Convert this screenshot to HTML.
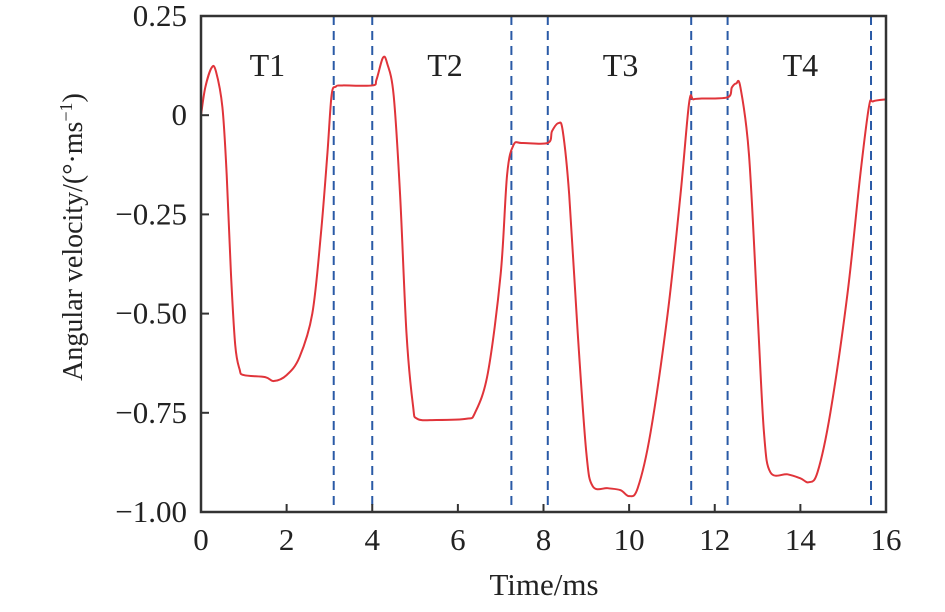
<!DOCTYPE html>
<html><head><meta charset="utf-8"><style>
html,body{margin:0;padding:0;background:#fff;}
svg text{font-family:"Liberation Serif",serif;fill:#222;}
</style></head><body>
<svg id="chart" width="945" height="607" viewBox="0 0 945 607" xmlns="http://www.w3.org/2000/svg">
<g id="grid"></g>
</svg>
<script>
const xTicks=[0,2,4,6,8,10,12,14,16];
const yTicks=[0.25,0,-0.25,-0.5,-0.75,-1.0];
const yTickLabels=["0.25","0","\u22120.25","\u22120.50","\u22120.75","\u22121.00"];
const dividers=[3.1,4.0,7.25,8.1,11.45,12.3,15.65];
const phaseLabels=["T1","T2","T3","T4"];
const phasePos=[1.55,5.7,9.8,14.0];
const times=[0,0.1,0.25,0.35,0.5,0.6,0.7,0.8,0.9,1.0,1.5,1.7,2.0,2.3,2.6,2.8,2.95,3.05,3.15,3.3,4.0,4.1,4.25,4.35,4.5,4.65,4.8,4.95,5.05,5.5,6.2,6.4,6.7,7.0,7.15,7.3,7.5,8.1,8.2,8.35,8.45,8.6,8.8,9.0,9.15,9.5,9.8,10.0,10.2,10.5,10.9,11.2,11.4,11.5,11.7,12.3,12.4,12.5,12.6,12.8,13.0,13.15,13.3,13.7,14.0,14.2,14.4,14.7,15.1,15.4,15.6,15.7,16];
const velocity=[0,0.07,0.12,0.11,0.02,-0.15,-0.4,-0.58,-0.64,-0.655,-0.66,-0.67,-0.655,-0.61,-0.5,-0.3,-0.1,0.05,0.072,0.075,0.075,0.09,0.145,0.13,0.05,-0.2,-0.55,-0.73,-0.765,-0.768,-0.765,-0.75,-0.65,-0.4,-0.15,-0.075,-0.07,-0.07,-0.04,-0.02,-0.04,-0.2,-0.55,-0.85,-0.935,-0.94,-0.945,-0.96,-0.94,-0.8,-0.5,-0.2,0.03,0.04,0.042,0.045,0.07,0.08,0.07,-0.1,-0.5,-0.8,-0.9,-0.905,-0.915,-0.925,-0.9,-0.75,-0.45,-0.15,0.02,0.035,0.04];

const L=201,R=886,T=16,B=512;
const X=v=>L+(v-0)/(16-0)*(R-L);
const Y=v=>T+(0.25-v)/(1.25)*(B-T);
const svg=document.getElementById('chart');
const NS='http://www.w3.org/2000/svg';
function mk(tag,attrs,parent){const e=document.createElementNS(NS,tag);for(const k in attrs)e.setAttribute(k,attrs[k]);(parent||svg).appendChild(e);return e;}

dividers.forEach(d=>{
  const l=mk('line',{x1:X(d),x2:X(d),y1:T,y2:B,stroke:'#2a5aa6','stroke-width':2,'stroke-dasharray':'9,6'});
  
  
});
const pts=times.map((t,i)=>[X(t),Y(velocity[i])]);
let d='M'+pts[0][0]+','+pts[0][1];
for(let i=0;i<pts.length-1;i++){
  const p0=pts[Math.max(0,i-1)],p1=pts[i],p2=pts[i+1],p3=pts[Math.min(pts.length-1,i+2)];
  const c1=[p1[0]+(p2[0]-p0[0])/6,p1[1]+(p2[1]-p0[1])/6];
  const c2=[p2[0]-(p3[0]-p1[0])/6,p2[1]-(p3[1]-p1[1])/6];
  d+=`C${c1[0]},${c1[1]} ${c2[0]},${c2[1]} ${p2[0]},${p2[1]}`;
}
const curve=mk('path',{d:d,fill:'none',stroke:'#e0343a','stroke-width':2});


const frame=mk('rect',{x:L,y:T,width:R-L,height:B-T,fill:'none',stroke:'#333','stroke-width':2.5});


xTicks.forEach(v=>{
  mk('line',{x1:X(v),x2:X(v),y1:B,y2:B-8,stroke:'#333','stroke-width':2});
  const t=mk('text',{x:X(v),y:B+38,'text-anchor':'middle','font-size':31});
  t.textContent=v;
  
  
});
yTicks.forEach((v,i)=>{
  mk('line',{x1:L,x2:L+8,y1:Y(v),y2:Y(v),stroke:'#333','stroke-width':2});
  const t=mk('text',{x:L-14,y:Y(v)+10,'text-anchor':'end','font-size':31});
  t.textContent=yTickLabels[i];
  
  
});
phaseLabels.forEach((s,i)=>{
  const t=mk('text',{x:X(phasePos[i]),y:76,'text-anchor':'middle','font-size':32});
  t.textContent=s;
  
  
});
const xt=mk('text',{x:544,y:595,'text-anchor':'middle','font-size':31});
xt.textContent='Time/ms';


const yt=mk('text',{x:0,y:0,'text-anchor':'middle','font-size':28,transform:'translate(82,237) rotate(-90)'});
yt.innerHTML='Angular velocity/(°·ms<tspan dy="-10" font-size="18">−1</tspan><tspan dy="10">)</tspan>';


</script>
</body></html>
